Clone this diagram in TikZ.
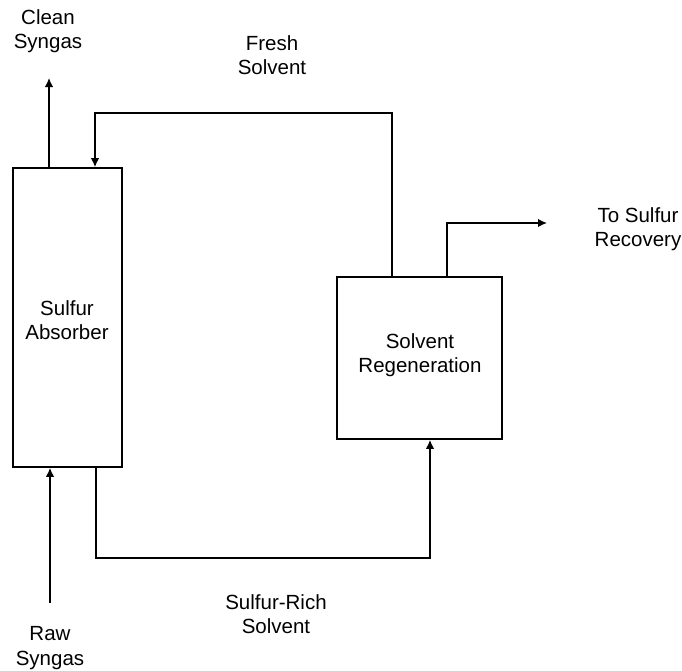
\documentclass[tikz,border=0pt]{standalone}
\usepackage{fontspec}
\setmainfont{Liberation Sans}
\usetikzlibrary{arrows.meta}
\begin{document}
\begin{tikzpicture}[x=1pt,y=-1pt,
  unit/.style={draw,line width=1.6pt,inner sep=0pt},
  lbl/.style={align=center,font=\fontsize{20.5}{24.5}\selectfont},
  flow/.style={line width=1.5pt,-{Latex[length=9pt,width=8.5pt]}},
  plain/.style={line width=1.5pt}]
\useasboundingbox (0,0) rectangle (682,670);
% units
\node[unit,minimum width=109pt,minimum height=299pt] (abs) at (67.5,317.5) {};
\node[lbl] (absl) at (67,320) {Sulfur\\Absorber};
\node[unit,minimum width=165pt,minimum height=162pt] (reg) at (419.5,358) {};
\node[lbl] (regl) at (420,355) {Solvent\\Regeneration};
% labels
\node[lbl] (clean) at (48,31) {Clean\\Syngas};
\node[lbl] (fresh) at (272,55) {Fresh\\Solvent};
\node[lbl] (tosr) at (638,229) {To Sulfur\\Recovery};
\node[lbl] (rich) at (276,614) {Sulfur-Rich\\Solvent};
\node[lbl] (raw) at (50,648) {Raw\\Syngas};
% coordinates
\coordinate (cs) at (49,78);
\coordinate (rs) at (50,603);
\coordinate (sr) at (547,223);
% connectors
\draw[flow] (abs.north -| cs) -- (cs);
\draw[flow] (rs) -- (abs.south -| rs);
\draw[flow] (reg.north -| 392,0) -- (392,113) -- (95,113) -- (abs.north -| 95,0);
\draw[flow] (reg.north -| 447,0) -- (447,223) -- (sr);
\draw[flow] (abs.south -| 96,0) -- (96,558) -- (430,558) -- (reg.south -| 430,0);
\end{tikzpicture}
\end{document}
